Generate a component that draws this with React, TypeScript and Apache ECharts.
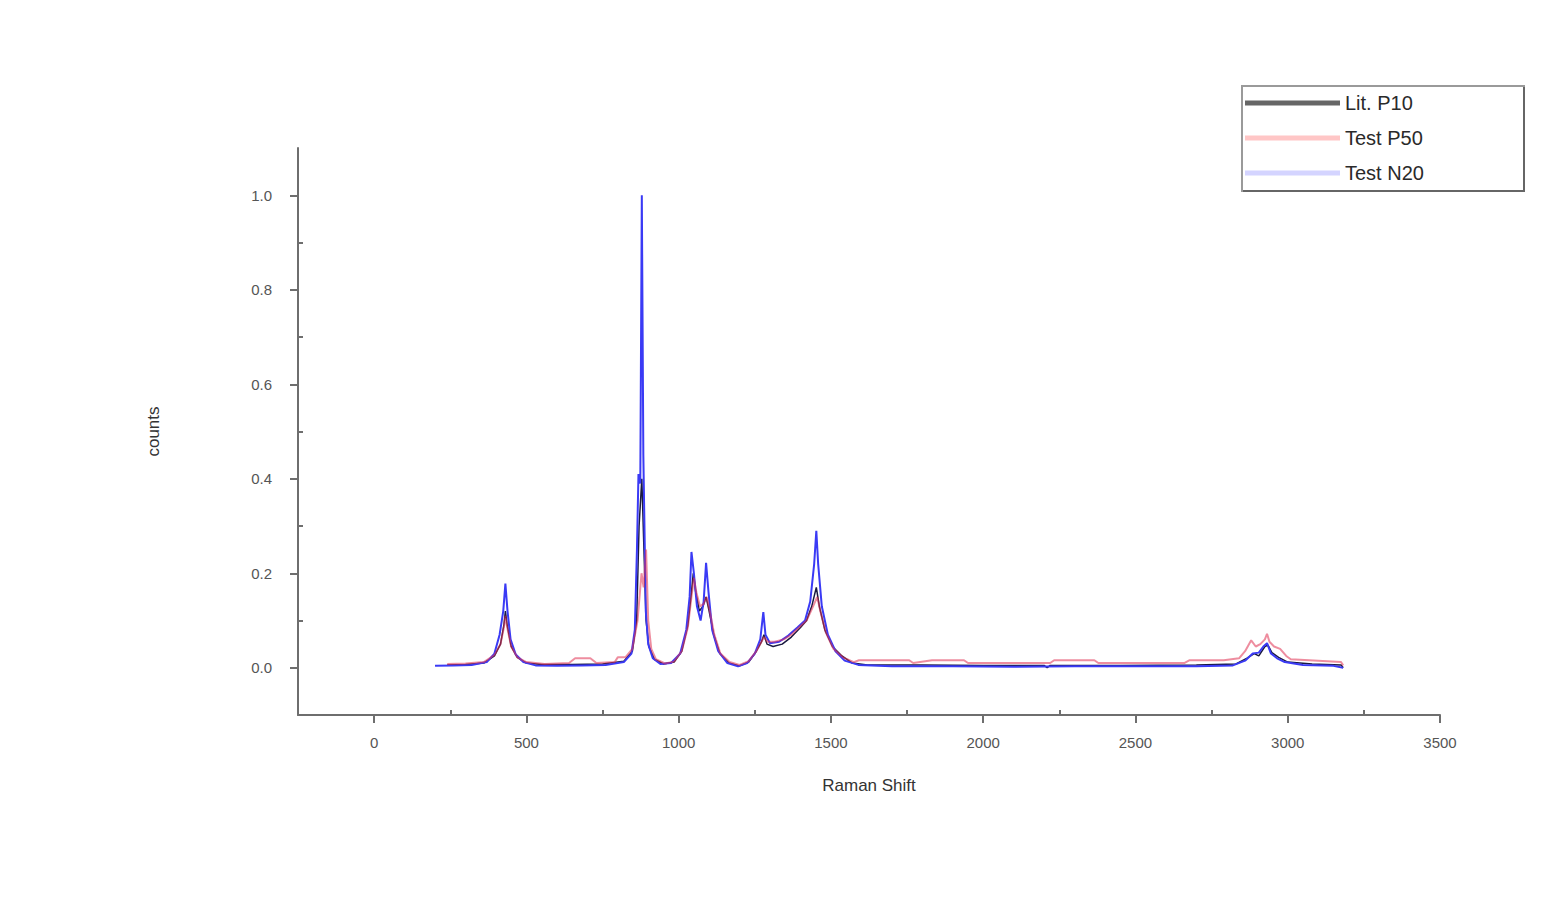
import React, { useEffect, useRef } from "react";
import * as echarts from "echarts";

const seriesNames = ["Lit. P10", "Test P50", "Test N20"];
const xLabelValues = [0, 500, 1000, 1500, 2000, 2500, 3000, 3500];
const xMinorValues = [-250, 250, 750, 1250, 1750, 2250, 2750, 3250];
const yLabelValues = [0, 0.2, 0.4, 0.6, 0.8, 1.0];
const yMinorValues = [0.1, 0.3, 0.5, 0.7, 0.9];

const litP10: number[][] = [
  [240, 0.006], [300, 0.007], [360, 0.01], [395, 0.025], [415, 0.05], [426, 0.09], [431, 0.12], [437, 0.09],
  [450, 0.045], [470, 0.022], [500, 0.01], [550, 0.007], [650, 0.007], [750, 0.008], [820, 0.014], [848, 0.035],
  [862, 0.1], [870, 0.3], [879, 0.4], [886, 0.25], [893, 0.1], [902, 0.045], [920, 0.018], [950, 0.008],
  [985, 0.012], [1010, 0.035], [1030, 0.09], [1042, 0.16], [1048, 0.2], [1056, 0.16], [1068, 0.12], [1080, 0.13],
  [1090, 0.15], [1100, 0.12], [1115, 0.07], [1135, 0.03], [1165, 0.01], [1200, 0.004], [1230, 0.012], [1255, 0.035],
  [1272, 0.055], [1280, 0.07], [1290, 0.05], [1310, 0.045], [1340, 0.05], [1370, 0.065], [1400, 0.085], [1420, 0.1],
  [1437, 0.13], [1452, 0.17], [1462, 0.13], [1480, 0.08], [1505, 0.045], [1536, 0.025], [1570, 0.01], [1620, 0.006],
  [1800, 0.006], [2000, 0.005], [2200, 0.005], [2210, 0.0], [2220, 0.005], [2450, 0.005], [2700, 0.006], [2830, 0.008],
  [2865, 0.02], [2890, 0.03], [2905, 0.025], [2925, 0.045], [2935, 0.048], [2948, 0.032], [2970, 0.022], [3000, 0.012],
  [3080, 0.008], [3175, 0.006], [3182, 0.0],
];

const testP50: number[][] = [
  [240, 0.008], [300, 0.009], [360, 0.012], [395, 0.027], [415, 0.05], [426, 0.085], [431, 0.11], [437, 0.085],
  [450, 0.045], [470, 0.022], [500, 0.012], [560, 0.008], [640, 0.01], [660, 0.02], [710, 0.02], [730, 0.01],
  [790, 0.012], [800, 0.022], [825, 0.022], [848, 0.04], [865, 0.1], [878, 0.2], [885, 0.17], [893, 0.25],
  [900, 0.1], [910, 0.04], [925, 0.018], [955, 0.009], [985, 0.013], [1010, 0.035], [1030, 0.085], [1042, 0.15],
  [1050, 0.19], [1058, 0.16], [1070, 0.13], [1082, 0.135], [1092, 0.15], [1102, 0.12], [1117, 0.07], [1137, 0.03],
  [1167, 0.012], [1200, 0.006], [1230, 0.014], [1255, 0.035], [1272, 0.055], [1280, 0.065], [1292, 0.055], [1315, 0.055],
  [1345, 0.06], [1370, 0.07], [1395, 0.085], [1420, 0.1], [1438, 0.125], [1455, 0.15], [1465, 0.12], [1483, 0.075],
  [1508, 0.04], [1540, 0.022], [1575, 0.012], [1592, 0.016], [1757, 0.016], [1770, 0.01], [1832, 0.016], [1937, 0.016],
  [1950, 0.01], [2220, 0.01], [2233, 0.016], [2365, 0.016], [2378, 0.01], [2660, 0.01], [2678, 0.016], [2760, 0.016],
  [2790, 0.016], [2840, 0.02], [2860, 0.035], [2880, 0.058], [2895, 0.045], [2910, 0.05], [2925, 0.06], [2932, 0.072],
  [2940, 0.055], [2955, 0.045], [2975, 0.04], [2995, 0.025], [3010, 0.018], [3100, 0.015], [3175, 0.012], [3182, 0.005],
];

const testN20: number[][] = [
  [200, 0.004], [260, 0.005], [320, 0.006], [370, 0.012], [395, 0.03], [412, 0.07], [424, 0.12], [431, 0.178],
  [438, 0.12], [448, 0.06], [465, 0.028], [490, 0.012], [530, 0.005], [600, 0.004], [680, 0.005], [760, 0.006],
  [820, 0.012], [845, 0.03], [856, 0.08], [863, 0.25], [868, 0.41], [874, 0.39], [879, 1.0], [884, 0.45],
  [892, 0.12], [900, 0.05], [915, 0.02], [940, 0.008], [975, 0.01], [1005, 0.03], [1025, 0.08], [1036, 0.15],
  [1042, 0.245], [1050, 0.2], [1060, 0.13], [1072, 0.1], [1082, 0.14], [1090, 0.222], [1098, 0.16], [1110, 0.08],
  [1130, 0.035], [1160, 0.01], [1195, 0.003], [1225, 0.01], [1250, 0.03], [1268, 0.06], [1278, 0.118], [1285, 0.07],
  [1300, 0.052], [1330, 0.055], [1360, 0.068], [1390, 0.085], [1415, 0.1], [1432, 0.14], [1445, 0.22], [1452, 0.29],
  [1458, 0.22], [1470, 0.13], [1490, 0.07], [1515, 0.035], [1545, 0.015], [1590, 0.006], [1700, 0.003], [1900, 0.003],
  [2100, 0.002], [2300, 0.003], [2500, 0.003], [2700, 0.003], [2820, 0.005], [2860, 0.015], [2885, 0.03], [2905, 0.032],
  [2920, 0.045], [2932, 0.052], [2945, 0.03], [2965, 0.02], [2990, 0.012], [3050, 0.006], [3150, 0.004], [3182, 0.0],
];

const FONT = "Liberation Sans";

export default function App() {
  const ref = useRef<HTMLDivElement>(null);

  useEffect(() => {
    document.body.style.margin = "0";
    if (!ref.current) return;
    const chart = echarts.init(ref.current, undefined, { renderer: "svg" });

    const axisLineStyle = { color: "#6e6e6e", width: 2 };

    chart.setOption({
      animation: false,
      backgroundColor: "#ffffff",
      textStyle: { fontFamily: FONT },
      grid: { left: 298, right: 116, top: 148, bottom: 189, containLabel: false },
      graphic: [
        {
          type: "rect",
          z: 0,
          shape: { x: 1242, y: 86, width: 282, height: 105 },
          style: { fill: "#ffffff", stroke: "#9a9a9a", lineWidth: 2 },
        },
        {
          type: "polyline",
          z: 0,
          shape: { points: [[1524, 87], [1524, 191], [1243, 191]] },
          style: { stroke: "#666666", lineWidth: 2, fill: "none" },
        },
      ],
      legend: {
        z: 5,
        left: 1245,
        top: 93,
        orient: "vertical",
        padding: 0,
        itemGap: 15,
        itemWidth: 95,
        itemHeight: 5,
        icon: "rect",
        textStyle: { fontSize: 20, color: "#2a2a2a", fontFamily: FONT },
        data: [
          { name: seriesNames[0], itemStyle: { color: "#666666" } },
          { name: seriesNames[1], itemStyle: { color: "#ffc6c6" } },
          { name: seriesNames[2], itemStyle: { color: "#d4d4ff" } },
        ],
      },
      xAxis: [
        {
          type: "value",
          min: -250,
          max: 3500,
          interval: 250,
          name: "Raman Shift",
          nameLocation: "middle",
          nameGap: 62,
          nameTextStyle: { fontSize: 17, color: "#333", fontFamily: FONT },
          axisLine: { show: true, onZero: false, lineStyle: axisLineStyle },
          axisTick: { show: true, inside: false, length: 8, customValues: xLabelValues, lineStyle: axisLineStyle },
          axisLabel: {
            show: true,
            customValues: xLabelValues,
            margin: 20,
            fontSize: 15,
            color: "#555",
            fontFamily: FONT,
            formatter: (v: number) => String(v),
          },
          splitLine: { show: false },
        },
        {
          type: "value",
          min: -250,
          max: 3500,
          interval: 250,
          position: "bottom",
          offset: 0,
          axisLine: { show: false, onZero: false },
          axisTick: { show: true, inside: true, length: 5, customValues: xMinorValues, lineStyle: axisLineStyle },
          axisLabel: { show: false },
          splitLine: { show: false },
        },
      ],
      yAxis: [
        {
          type: "value",
          min: -0.1,
          max: 1.1,
          interval: 0.1,
          name: "counts",
          nameLocation: "middle",
          nameGap: 136,
          nameTextStyle: { fontSize: 17, color: "#333", fontFamily: FONT },
          axisLine: { show: true, onZero: false, lineStyle: axisLineStyle },
          axisTick: { show: true, inside: false, length: 8, customValues: yLabelValues, lineStyle: axisLineStyle },
          axisLabel: {
            show: true,
            customValues: yLabelValues,
            margin: 26,
            fontSize: 15,
            color: "#555",
            fontFamily: FONT,
            formatter: (v: number) => v.toFixed(1),
          },
          splitLine: { show: false },
        },
        {
          type: "value",
          min: -0.1,
          max: 1.1,
          interval: 0.1,
          position: "left",
          offset: 0,
          axisLine: { show: false, onZero: false },
          axisTick: { show: true, inside: true, length: 5, customValues: yMinorValues, lineStyle: axisLineStyle },
          axisLabel: { show: false },
          splitLine: { show: false },
        },
      ],
      series: [
        {
          name: seriesNames[0],
          type: "line",
          xAxisIndex: 0,
          yAxisIndex: 0,
          showSymbol: false,
          data: litP10,
          lineStyle: { color: "#1a1a40", width: 1.5 },
          itemStyle: { color: "#1a1a40" },
          z: 2,
        },
        {
          name: seriesNames[2],
          type: "line",
          xAxisIndex: 0,
          yAxisIndex: 0,
          showSymbol: false,
          data: testN20,
          lineStyle: { color: "#3a3af5", width: 2 },
          itemStyle: { color: "#3a3af5" },
          z: 3,
        },
        {
          name: seriesNames[1],
          type: "line",
          xAxisIndex: 0,
          yAxisIndex: 0,
          showSymbol: false,
          data: testP50,
          lineStyle: { color: "#e03050", width: 2, opacity: 0.55 },
          itemStyle: { color: "#e03050" },
          z: 4,
        },
      ],
    });

    return () => chart.dispose();
  }, []);

  return <div ref={ref} style={{ width: 1556, height: 904 }} />;
}
